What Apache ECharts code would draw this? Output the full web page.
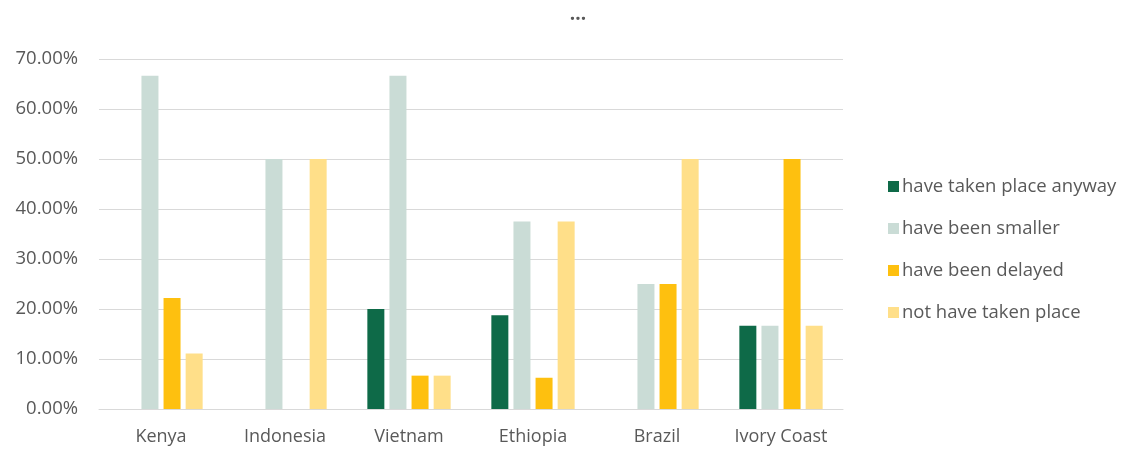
<!DOCTYPE html>
<html>
<head>
<meta charset="utf-8">
<script src="https://cdn.jsdelivr.net/npm/echarts@6/dist/echarts.min.js"></script>
<style>
  html, body { margin: 0; padding: 0; background: #fff; }
  #main { width: 1141px; height: 452px; }
</style>
</head>
<body>
<div id="main"></div>
<script>
// categories and series (percent values)
var countries = ['Kenya', 'Indonesia', 'Vietnam', 'Ethiopia', 'Brazil', 'Ivory Coast'];
var takenPlace = [0, 0, 20.00, 18.75, 0, 16.67];
var beenSmaller = [66.67, 50.00, 66.67, 37.50, 25.00, 16.67];
var beenDelayed = [22.22, 0, 6.67, 6.25, 25.00, 50.00];
var notTaken = [11.11, 50.00, 6.67, 37.50, 50.00, 16.67];
var seriesNames = ['have taken place anyway', 'have been smaller', 'have been delayed', 'not have taken place'];
var colors = ['#0e6a48', '#cadcd6', '#fec00f', '#ffdf89'];

var chart = echarts.init(document.getElementById('main'));
var font = 'Open Sans';
var txt = '#595959';

function bar(name, data) {
    return {
        name: name,
        type: 'bar',
        data: data,
        barWidth: 17,
        barGap: '30%'
    };
}

var option = {
    backgroundColor: '#fff',
    color: colors,
    animation: false,
    title: {
        text: '...',
        left: 573,
        top: 0,
        textAlign: 'center',
        textStyle: { color: txt, fontSize: 19, fontWeight: 'bold', fontFamily: font }
    },
    legend: {
        orient: 'vertical',
        left: 883,
        top: 172,
        itemWidth: 11,
        itemHeight: 11,
        itemGap: 23,
        icon: 'rect',
        textStyle: { color: txt, fontSize: 18.5, fontFamily: font, padding: [0, 0, 0, -2] },
        data: seriesNames
    },
    grid: {
        left: 99,
        right: 298,
        top: 59,
        bottom: 43
    },
    xAxis: {
        type: 'category',
        data: countries,
        axisTick: { show: false },
        axisLine: { lineStyle: { color: '#d9d9d9' } },
        axisLabel: { color: txt, fontSize: 18, fontFamily: font, margin: 19, interval: 0 }
    },
    yAxis: {
        type: 'value',
        min: 0,
        max: 70,
        interval: 10,
        axisLine: { show: false },
        axisTick: { show: false },
        splitLine: { lineStyle: { color: '#d9d9d9' } },
        axisLabel: {
            color: txt, fontSize: 18.5, fontFamily: font, margin: 21,
            formatter: function (v) { return v.toFixed(2) + '%'; }
        }
    },
    series: [
        bar(seriesNames[0], takenPlace),
        bar(seriesNames[1], beenSmaller),
        bar(seriesNames[2], beenDelayed),
        bar(seriesNames[3], notTaken)
    ]
};

chart.setOption(option);
</script>
</body>
</html>
